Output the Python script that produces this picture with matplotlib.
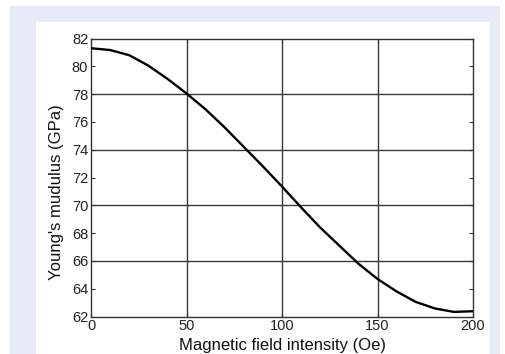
import matplotlib.pyplot as plt
from matplotlib.patches import Rectangle
import numpy as np

# data
field = [0, 10, 20, 30, 40, 50, 60, 70, 80, 90, 100,
         110, 120, 130, 140, 150, 160, 170, 180, 190, 200]
modulus = [81.3, 81.17, 80.8, 80.05, 79.1, 78.05, 76.9, 75.6, 74.2, 72.8, 71.35,
           69.85, 68.4, 67.1, 65.8, 64.7, 63.8, 63.05, 62.58, 62.33, 62.38]
xticks = [0, 50, 100, 150, 200]
yticks = [62, 64, 66, 68, 70, 72, 74, 76, 78, 80, 82]
xgrid = [50, 100, 150]
ygrid = [66, 70, 74, 78]

plt.rcParams['font.family'] = ['Liberation Sans', 'DejaVu Sans']

fig = plt.figure(figsize=(5.05, 3.54), dpi=100)
W, H = 505, 354
# light blue frame and white panel behind the plot
fig.patches.append(Rectangle((10 / W, 0), 490 / W, 348 / H, transform=fig.transFigure,
                             facecolor='#e7ebf6', edgecolor='none', zorder=-2))
fig.patches.append(Rectangle((36 / W, 0), 454 / W, 332 / H, transform=fig.transFigure,
                             facecolor='white', edgecolor='none', zorder=-1))

ax = fig.add_axes([91 / W, 37.5 / H, 382 / W, 278 / H])
ax.set_facecolor('white')

for g in xgrid:
    ax.axvline(g, color='#3a3a3a', lw=1.0, zorder=1)
for g in ygrid:
    ax.axhline(g, color='#3a3a3a', lw=1.0, zorder=1)

ax.plot(field, modulus, color='black', lw=1.7, zorder=3)

ax.set_xlim(0, 200)
ax.set_ylim(62, 82)
ax.set_xticks(xticks)
ax.set_yticks(yticks)
ax.tick_params(direction='in', top=True, right=True, length=3, width=0.8,
               color='#333333', labelsize=10.5, labelcolor='#222222', pad=2)
for s in ax.spines.values():
    s.set_color('#333333')
    s.set_linewidth(1.0)

ax.set_xlabel('Magnetic field intensity (Oe)', fontsize=12, color='#111111')
ax.set_ylabel("Young's mudulus (GPa)", fontsize=12, color='#111111')
ax.xaxis.set_label_coords(0.501, -0.076)
ax.yaxis.set_label_coords(-0.07, 0.446)

fig.savefig('out.png', dpi=100)
